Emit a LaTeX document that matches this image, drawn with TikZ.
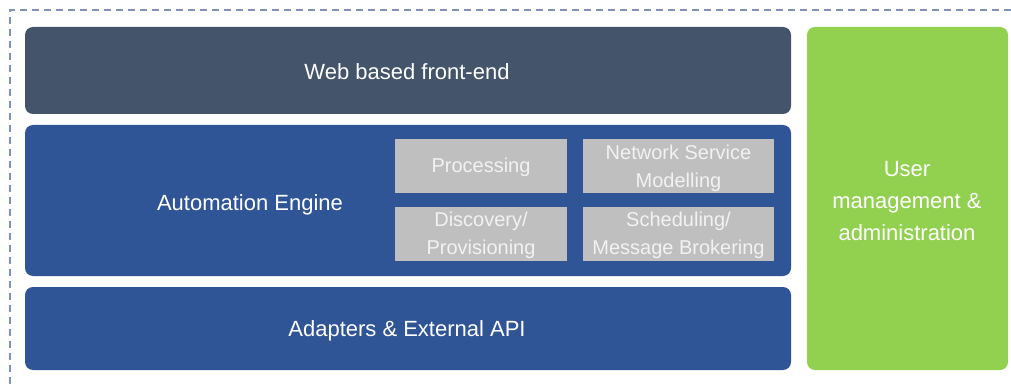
\documentclass[tikz,border=0pt]{standalone}
\usepackage{fontspec}
\setmainfont{Liberation Sans}
\usetikzlibrary{fit}
\definecolor{slate}{HTML}{44546A}
\definecolor{eblue}{HTML}{2F5597}
\definecolor{lgreen}{HTML}{92D050}
\definecolor{lgray}{HTML}{BFBFBF}
\definecolor{dashc}{HTML}{7F93B8}
\definecolor{graytext}{HTML}{F2F2F2}
\begin{document}
\begin{tikzpicture}[x=0.75pt,y=-0.75pt,
  layer/.style={inner sep=0pt, rounded corners=6pt, draw=none, text=white,
    font=\fontsize{16.5}{24}\selectfont, align=center},
  cell/.style={inner sep=0pt, fill=lgray, draw=none, text=graytext,
    font=\fontsize{15}{21}\selectfont, align=center},
  lbl/.style={text=white, font=\fontsize{16.5}{24}\selectfont, align=center, inner sep=0pt}]
\useasboundingbox (0,0) rectangle (1011,385);
\fill[white] (0,0) rectangle (1011,385);
% dashed frame
\coordinate (fa) at (1011,10);
\coordinate (fb) at (10,10);
\coordinate (fc) at (10,385);
\draw[dashc, line width=0.8pt, dash pattern=on 5.5pt off 3.5pt] (fa) -- (fb) -- (fc);
% layers
\node[layer, fill=slate, fit={(25,27) (791,114)}] (web) {};
\node[lbl] (webt) at (407,72) {Web based front-end};
\node[layer, fill=eblue, fit={(25,125) (791,276)}] (eng) {};
\node[lbl] (engt) at (250,205) {Automation Engine};
\node[layer, fill=eblue, fit={(25,287) (791,370)}] (adp) {};
\node[lbl] (adpt) at (407,331) {Adapters \& External API};
\node[layer, fill=lgreen, fit={(807,27) (1008,370)}] (usr) {};
\node[lbl] (usrt) at (907,201) {User\\management \&\\administration};
% cells
\node[cell, fit={(395,139) (567,193)}] (proc) {};
\node[cell, fill=none] (proct) at (481,167) {Processing};
\node[cell, fit={(583,139) (774,193)}] (nsm) {};
\node[cell, fill=none] (nsmt) at (678.5,168.5) {Network Service\\Modelling};
\node[cell, fit={(395,207) (567,261)}] (disc) {};
\node[cell, fill=none] (disct) at (481,235.5) {Discovery/\\Provisioning};
\node[cell, fit={(583,207) (774,261)}] (sched) {};
\node[cell, fill=none] (schedt) at (678.5,235.5) {Scheduling/\\Message Brokering};
\end{tikzpicture}
\end{document}
